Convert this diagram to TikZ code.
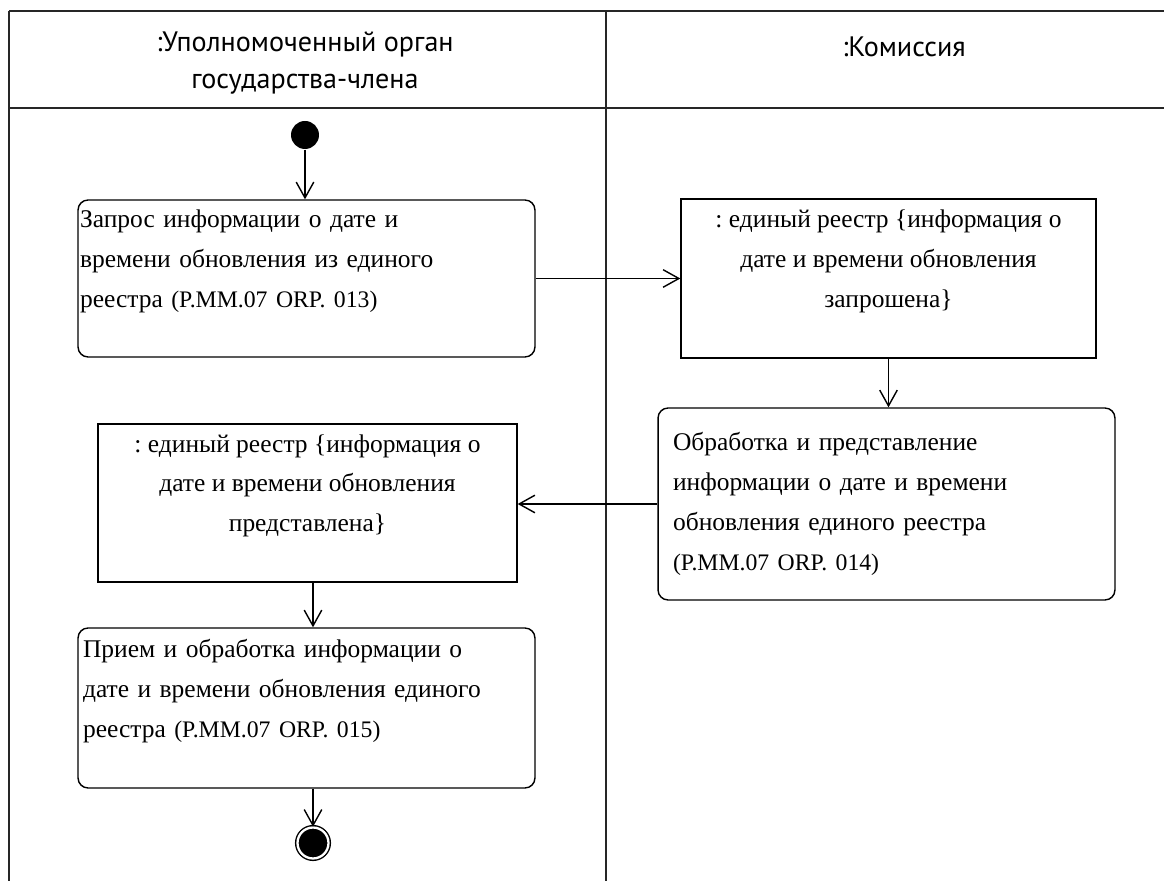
\documentclass[tikz,border=0pt]{standalone}
\usepackage{fontspec}
\setmainfont{Liberation Serif}
\newfontfamily\lanefont{PT Sans}
\usetikzlibrary{arrows.meta,shapes,positioning}
\frenchspacing

\newcommand{\boxfont}{\fontsize{14.5}{22.7}\selectfont}
\newcommand{\orp}[1]{{\fontsize{13.5}{22.7}\selectfont #1}}

\tikzset{
  action/.style={draw, line width=0.8pt, rounded corners=0.2cm, minimum width=9.14cm,
    inner xsep=0.04cm, text width=9.06cm, align=left, font=\boxfont},
  object/.style={draw, line width=0.8pt, align=center, font=\boxfont},
  lane/.style={line width=1.2pt, black!85},
  lanetitle/.style={font=\lanefont\fontsize{16}{21}\selectfont, align=center},
  startstate/.style={circle, fill=black, inner sep=0pt, minimum size=0.56cm},
  endstate/.style={circle, draw, fill=black, line width=0.8pt, double=white,
    double distance=1.3pt, inner sep=0pt, minimum size=0.62cm}
}

\begin{document}
\begin{tikzpicture}[x=0.02cm,y=-0.02cm,->,>={Straight Barb[length=9pt,width=10pt]},line width=0.8pt]
  \useasboundingbox (0,0) rectangle (1164,881);

  % swimlanes
  \draw[lane,-] (9,11) -- (1164,11);
  \draw[lane,-] (9,108) -- (1164,108);
  \draw[lane,-] (9,11) -- (9,881);
  \draw[lane,-] (606,11) -- (606,881);
  \node[lanetitle] (memb) at (305,63) {:Уполномоченный орган\\государства-члена};
  \node[lanetitle] (comm) at (904,47) {:Комиссия};

  % states and actions
  \node[startstate] (start) at (305,135) {};
  \node[action, minimum height=3.14cm] (req) at (306.5,278.5)
    {Запрос информации о дате и\\времени обновления из единого\\реестра \orp{(P.MM.07 ORP. 013)}\\~};
  \node[object, minimum width=8.3cm, minimum height=3.18cm] (asked) at (888.5,278.5)
    {: единый реестр \{информация о\\дате и времени обновления\\запрошена\}\\~};
  \node[action, minimum height=3.84cm, inner xsep=0.3cm, text width=8.54cm] (proc) at (886.5,504)
    {Обработка и представление\\информации о дате и времени\\обновления единого реестра\\\orp{(P.MM.07 ORP. 014)}};
  \node[object, minimum width=8.38cm, minimum height=3.16cm] (given) at (307.5,503)
    {: единый реестр \{информация о\\дате и времени обновления\\представлена\}\\~};
  \node[action, minimum height=3.2cm, inner xsep=0.1cm, text width=8.94cm] (recv) at (306.5,708)
    {Прием и обработка информации о\\дате и времени обновления единого\\реестра \orp{(P.MM.07 ORP. 015)}\\~};
  \node[endstate] (fin) at (313,843) {};

  % flows
  \draw (start) -- (start |- req.north);
  \draw (req) -- (asked);
  \draw (asked.south) -- (asked.south |- proc.north);
  \draw (proc.west) -- (proc.west -| given.east);
  \draw (given.south -| fin) -- (recv.north -| fin);
  \draw (recv.south -| fin) -- (fin);
\end{tikzpicture}
\end{document}
